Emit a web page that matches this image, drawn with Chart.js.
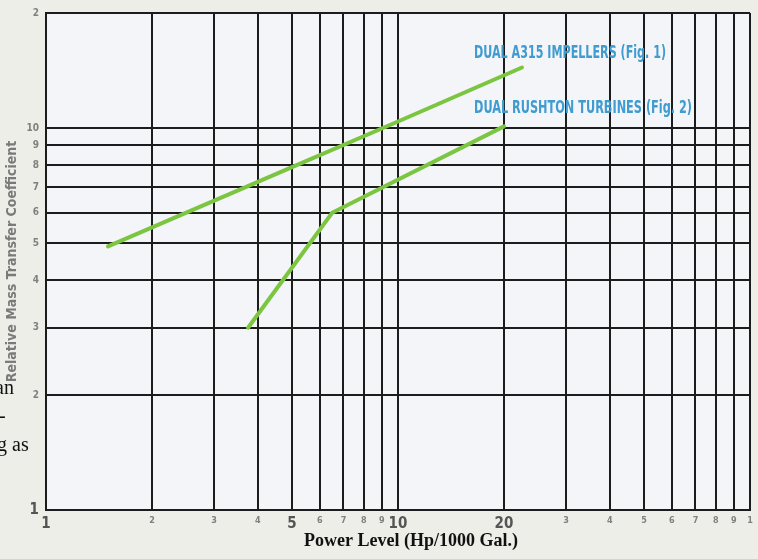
<!DOCTYPE html>
<html>
<head>
<meta charset="utf-8">
<script src="https://cdn.jsdelivr.net/npm/chart.js@4.4.1/dist/chart.umd.min.js"></script>
<style>
  html, body { margin: 0; padding: 0; background: #eceee7; }
  #wrap { width: 758px; height: 559px; position: relative; }
</style>
</head>
<body>
<div id="wrap"><canvas id="massChart" width="758" height="559"></canvas></div>
<script>
// data
const a315Power = [1.5, 5, 10, 22.5];
const a315Coef = [4.9, 7.9, 10.4, 14.4];
const rushtonPower = [3.75, 6.5, 20];
const rushtonCoef = [3.0, 6.0, 10.1];

const xTickValues = [1, 2, 3, 4, 5, 6, 7, 8, 9, 10, 20, 30, 40, 50, 60, 70, 80, 90, 100];
const xTickLabels = ['1', '2', '3', '4', '5', '6', '7', '8', '9', '10', '20', '3', '4', '5', '6', '7', '8', '9', '1'];
const yTickValues = [1, 2, 3, 4, 5, 6, 7, 8, 9, 10, 20];
const yTickLabels = ['1', '2', '3', '4', '5', '6', '7', '8', '9', '10', '2'];

const seriesNames = ['DUAL A315 IMPELLERS (Fig. 1)', 'DUAL RUSHTON TURBINES (Fig. 2)'];
const xTitle = 'Power Level (Hp/1000 Gal.)';
const yTitle = 'Relative Mass Transfer Coefficient';
const pageFragments = ['an', '-', 'g as'];

const narrow = "'Liberation Sans Narrow', 'DejaVu Sans Condensed', sans-serif";
const green = '#7cc540';
const gridColor = '#1c1c1c';

function toPoints(xs, ys) {
    return xs.map((x, i) => ({ x: x, y: ys[i] }));
}

// plot background, page text and curve labels
const pagePlugin = {
    id: 'pagePlugin',
    beforeDraw(chart) {
        const { ctx, chartArea: a } = chart;
        ctx.save();
        ctx.fillStyle = '#f3f5f8';
        ctx.fillRect(a.left, a.top, a.right - a.left, a.bottom - a.top);
        ctx.restore();
    },
    afterDraw(chart) {
        const ctx = chart.ctx;
        ctx.save();
        // x axis title
        ctx.fillStyle = '#111';
        ctx.font = "bold 18px 'Liberation Serif', 'Times New Roman', serif";
        ctx.textAlign = 'center';
        ctx.textBaseline = 'middle';
        ctx.fillText(xTitle, 411, 541);

        // cut-off text of the page next to the figure
        ctx.font = "20px 'Liberation Serif', serif";
        ctx.textAlign = 'left';
        ctx.fillText(pageFragments[0], -5, 389);
        ctx.fillText(pageFragments[1], -1, 417);
        ctx.fillText(pageFragments[2], -3, 446);

        // curve labels
        ctx.fillStyle = '#3f9bd0';
        ctx.font = 'bold 17px ' + narrow;
        const spots = [[474, 54, 192], [474, 109, 218]];
        seriesNames.forEach((name, i) => {
            const [x, y, w] = spots[i];
            const m = ctx.measureText(name).width;
            ctx.save();
            ctx.translate(x, y);
            ctx.scale(w / m, 1);
            ctx.fillText(name, 0, 0);
            ctx.restore();
        });
        ctx.restore();
    }
};

function tickFont(big, bigSize, smallSize) {
    return (c) => {
        const v = c.tick ? c.tick.value : 0;
        if (big.includes(v)) return { family: narrow, size: bigSize, weight: 'bold' };
        return { family: narrow, size: smallSize, weight: 'bold' };
    };
}

function tickColor(big) {
    return (c) => (c.tick && big.includes(c.tick.value)) ? '#555' : '#808080';
}

new Chart(document.getElementById('massChart'), {
    type: 'line',
    data: {
        datasets: [{
            label: seriesNames[0],
            data: toPoints(a315Power, a315Coef),
            borderColor: green,
            borderWidth: 4,
            pointRadius: 0,
            borderCapStyle: 'round'
        }, {
            label: seriesNames[1],
            data: toPoints(rushtonPower, rushtonCoef),
            borderColor: green,
            borderWidth: 4,
            pointRadius: 0,
            borderCapStyle: 'round'
        }]
    },
    options: {
        responsive: false,
        animation: false,
        layout: { padding: { top: 10, right: 8, left: 0, bottom: 0 } },
        scales: {
            x: {
                type: 'logarithmic',
                min: 1,
                max: 100,
                afterBuildTicks: (s) => { s.ticks = xTickValues.map(v => ({ value: v })); },
                afterFit: (s) => { s.height = 49; },
                grid: { color: gridColor, lineWidth: 2, drawTicks: false },
                border: { color: gridColor, width: 2 },
                ticks: {
                    padding: 5,
                    autoSkip: false,
                    maxRotation: 0,
                    color: tickColor([1, 5, 10, 20]),
                    font: tickFont([1, 5, 10, 20], 15, 9),
                    callback: (v) => xTickLabels[xTickValues.indexOf(v)]
                }
            },
            y: {
                type: 'logarithmic',
                min: 1,
                max: 20,
                afterBuildTicks: (s) => { s.ticks = yTickValues.map(v => ({ value: v })); },
                afterFit: (s) => { s.width = 46; },
                grid: { color: gridColor, lineWidth: 2, drawTicks: false },
                border: { color: gridColor, width: 2 },
                title: {
                    display: true,
                    text: yTitle,
                    color: '#7a7a7a',
                    font: { family: narrow, size: 14, weight: 'bold' },
                    padding: { top: 4, bottom: 0 }
                },
                ticks: {
                    padding: 7,
                    autoSkip: false,
                    color: tickColor([1]),
                    font: tickFont([1], 15, 10),
                    callback: (v) => yTickLabels[yTickValues.indexOf(v)]
                }
            }
        },
        plugins: {
            legend: { display: false },
            tooltip: { enabled: false }
        }
    },
    plugins: [pagePlugin]
});
</script>
</body>
</html>
